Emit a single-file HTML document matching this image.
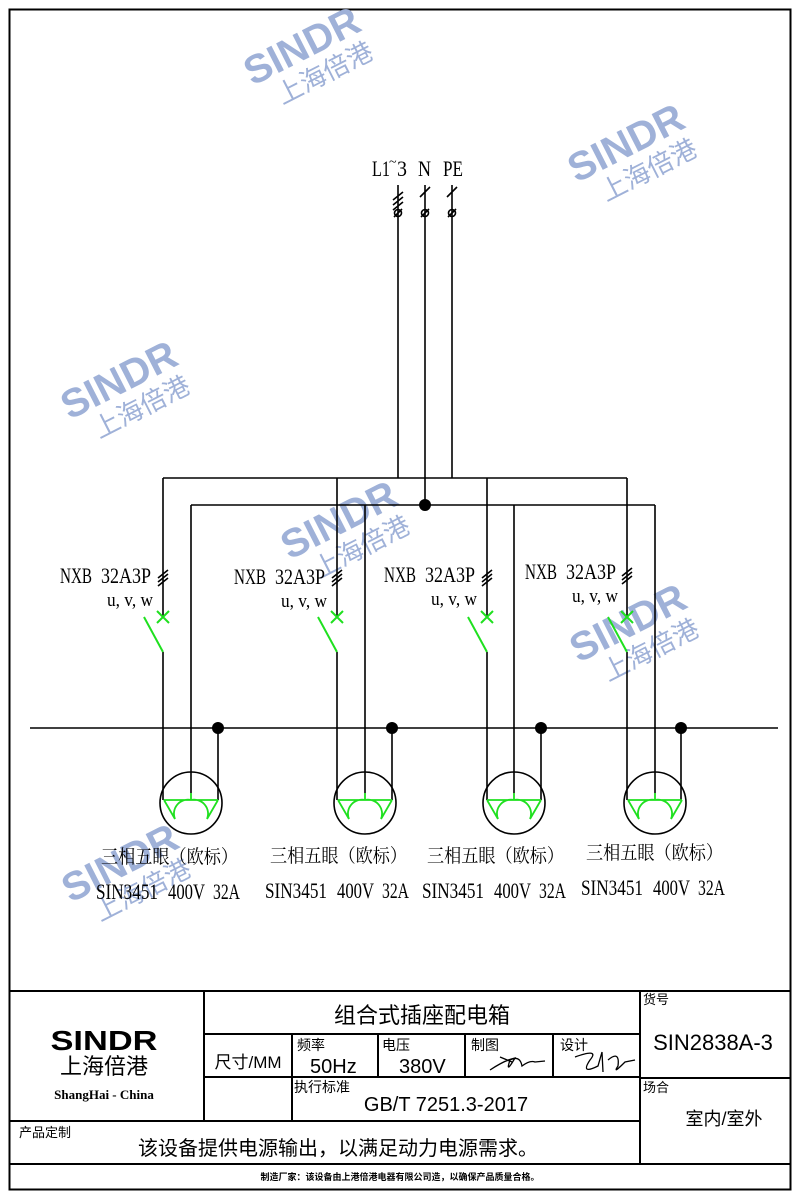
<!DOCTYPE html>
<html><head><meta charset="utf-8"><style>
body{margin:0;background:#fff;}
svg{display:block;}
.s{font-family:"Liberation Serif","Noto Serif CJK SC",serif;}
.c{font-family:"Liberation Sans","Noto Sans CJK SC",sans-serif;}
</style></head><body>
<svg width="800" height="1200" viewBox="0 0 800 1200" xmlns="http://www.w3.org/2000/svg">
<defs>
<g id="nxb" class="s" font-size="22" fill="#000">
<text x="0" y="0" textLength="32" lengthAdjust="spacingAndGlyphs">NXB</text>
<text x="41" y="0" textLength="50" lengthAdjust="spacingAndGlyphs">32A3P</text>
<text x="47" y="23" font-size="19" textLength="46" lengthAdjust="spacingAndGlyphs">u, v, w</text>
</g>
<g id="lab" class="s" font-size="22" fill="#000">
<text x="5" y="0" font-size="19" textLength="137" lengthAdjust="spacingAndGlyphs">三相五眼（欧标）</text>
<text x="0" y="36" textLength="62" lengthAdjust="spacingAndGlyphs">SIN3451</text>
<text x="72" y="36" textLength="37" lengthAdjust="spacingAndGlyphs">400V</text>
<text x="117" y="36" textLength="27" lengthAdjust="spacingAndGlyphs">32A</text>
</g>
<g id="wm" fill="#9fb1d8" font-family="Liberation Sans,sans-serif" font-weight="bold"><text x="0" y="0" font-size="40" text-anchor="middle">SINDR</text><text x="8" y="30" font-size="26" text-anchor="middle" font-family="Noto Sans CJK SC,sans-serif" font-weight="normal">上海倍港</text></g>
</defs>
<rect x="0" y="0" width="800" height="1200" fill="#fff"/>
<rect x="9.5" y="9.5" width="781" height="1180" fill="none" stroke="#000" stroke-width="2"/>

<use href="#wm" transform="translate(308,58) rotate(-27)"/>
<use href="#wm" transform="translate(632,155) rotate(-27)"/>
<use href="#wm" transform="translate(125,392) rotate(-27)"/>
<use href="#wm" transform="translate(345,532) rotate(-27)"/>
<use href="#wm" transform="translate(634,635) rotate(-27)"/>
<use href="#wm" transform="translate(126,875) rotate(-27)"/>

<g class="s" font-size="22" fill="#000">
<text x="372" y="176" textLength="18" lengthAdjust="spacingAndGlyphs">L1</text>
<text x="389" y="166" font-size="14">~</text>
<text x="397" y="176" textLength="10" lengthAdjust="spacingAndGlyphs">3</text>
<text x="418" y="176" textLength="13" lengthAdjust="spacingAndGlyphs">N</text>
<text x="443" y="176" textLength="20" lengthAdjust="spacingAndGlyphs">PE</text>
</g>
<g stroke="#000" stroke-width="1.6" fill="none">
<line x1="398" y1="185" x2="398" y2="478"/>
<line x1="425" y1="185" x2="425" y2="505"/>
<line x1="452" y1="185" x2="452" y2="478"/>
<path d="M393 200 L403 192 M393 205 L403 197 M393 210 L403 202"/>
<path d="M420 197 L430 187 M447 197 L457 187"/>
<circle cx="398" cy="213" r="3.5"/><circle cx="425" cy="213" r="3.5"/><circle cx="452" cy="213" r="3.5"/>
<path d="M394 217 L402 209 M421 217 L429 209 M448 217 L456 209"/>
<line x1="163" y1="478" x2="627" y2="478"/>
<line x1="191" y1="505" x2="655" y2="505"/>
<line x1="30" y1="728" x2="778" y2="728"/>
</g>
<circle cx="425" cy="505" r="6" fill="#000"/>

<g stroke="#000" stroke-width="1.6" fill="none">
<path d="M163 478 V617 M163 652 V800 M191 505 V793 M218 728 V800"/>
<path d="M337 478 V617 M337 652 V800 M365 505 V793 M392 728 V800"/>
<path d="M487 478 V617 M487 652 V800 M514 505 V793 M541 728 V800"/>
<path d="M627 478 V617 M627 652 V800 M655 505 V793 M681 728 V800"/>
<circle cx="191" cy="803" r="31"/><circle cx="365" cy="803" r="31"/><circle cx="514" cy="803" r="31"/><circle cx="655" cy="803" r="31"/>
<path d="M158 578 L168 570 M158 582 L168 574 M158 586 L168 578"/>
<path d="M332 578 L342 570 M332 582 L342 574 M332 586 L342 578"/>
<path d="M482 578 L492 570 M482 582 L492 574 M482 586 L492 578"/>
<path d="M622 576 L632 568 M622 580 L632 572 M622 584 L632 576"/>
</g>
<g fill="#000"><circle cx="218" cy="728" r="6"/><circle cx="392" cy="728" r="6"/><circle cx="541" cy="728" r="6"/><circle cx="681" cy="728" r="6"/></g>
<g stroke="#1fe01f" stroke-width="2" fill="none">
<path d="M157 611 L169 623 M169 611 L157 623 M144 617 L163 652"/>
<path d="M331 611 L343 623 M343 611 L331 623 M318 617 L337 652"/>
<path d="M481 611 L493 623 M493 611 L481 623 M468 617 L487 652"/>
<path d="M621 611 L633 623 M633 611 L621 623 M608 617 L627 652"/>
<g stroke-width="1.8">
<path d="M164 800 H218 M191 793 V800 M164 800 L175 819 A14 14 0 0 1 191 800 A14 14 0 0 1 207 819 L218 800"/>
<path d="M338 800 H392 M365 793 V800 M338 800 L349 819 A14 14 0 0 1 365 800 A14 14 0 0 1 381 819 L392 800"/>
<path d="M487 800 H541 M514 793 V800 M487 800 L498 819 A14 14 0 0 1 514 800 A14 14 0 0 1 530 819 L541 800"/>
<path d="M628 800 H682 M655 793 V800 M628 800 L639 819 A14 14 0 0 1 655 800 A14 14 0 0 1 671 819 L682 800"/>
</g>
</g>

<use href="#nxb" transform="translate(60,583)"/>
<use href="#nxb" transform="translate(234,584)"/>
<use href="#nxb" transform="translate(384,582)"/>
<use href="#nxb" transform="translate(525,579)"/>
<use href="#lab" transform="translate(96,863)"/>
<use href="#lab" transform="translate(265,862)"/>
<use href="#lab" transform="translate(422,862)"/>
<use href="#lab" transform="translate(581,859)"/>

<g stroke="#000" stroke-width="2" fill="none">
<line x1="9" y1="991" x2="791" y2="991"/>
<line x1="204" y1="991" x2="204" y2="1121"/>
<line x1="640" y1="991" x2="640" y2="1164"/>
<line x1="204" y1="1034" x2="640" y2="1034"/>
<line x1="204" y1="1077" x2="640" y2="1077"/>
<line x1="640" y1="1078" x2="791" y2="1078"/>
<line x1="9" y1="1121" x2="640" y2="1121"/>
<line x1="9" y1="1164" x2="791" y2="1164"/>
<line x1="292" y1="1034" x2="292" y2="1121"/>
<line x1="378" y1="1034" x2="378" y2="1077"/>
<line x1="465" y1="1034" x2="465" y2="1077"/>
<line x1="553" y1="1034" x2="553" y2="1077"/>
</g>
<g class="c" fill="#000">
<text x="104" y="1050" font-size="28" font-weight="bold" text-anchor="middle" textLength="107" lengthAdjust="spacingAndGlyphs">SINDR</text>
<text x="104" y="1074" font-size="22" text-anchor="middle">上海倍港</text>
<text x="104" y="1099" font-size="13" font-weight="bold" text-anchor="middle" font-family="Liberation Serif,serif">ShangHai - China</text>
<text x="422" y="1023" font-size="22" text-anchor="middle">组合式插座配电箱</text>
<text x="248" y="1068" font-size="17" text-anchor="middle">尺寸/MM</text>
<text x="297" y="1050" font-size="14">频率</text>
<text x="310" y="1073" font-size="20">50Hz</text>
<text x="382" y="1050" font-size="14">电压</text>
<text x="399" y="1073" font-size="20">380V</text>
<text x="471" y="1050" font-size="14">制图</text>
<text x="560" y="1050" font-size="14">设计</text>
<text x="294" y="1092" font-size="14">执行标准</text>
<text x="446" y="1111" font-size="20" text-anchor="middle">GB/T 7251.3-2017</text>
<text x="643" y="1004" font-size="13">货号</text>
<text x="713" y="1050" font-size="22" text-anchor="middle">SIN2838A-3</text>
<text x="643" y="1092" font-size="13">场合</text>
<text x="724" y="1125" font-size="18" text-anchor="middle">室内/室外</text>
<text x="19" y="1137" font-size="13">产品定制</text>
<text x="338" y="1155" font-size="20" text-anchor="middle">该设备提供电源输出，以满足动力电源需求。</text>
<text x="400" y="1180" font-size="9" font-weight="bold" text-anchor="middle">制造厂家：该设备由上港倍港电器有限公司造，以确保产品质量合格。</text>
</g>
<g stroke="#000" stroke-width="1.3" fill="none">
<path d="M500 1057 L512 1062 M490 1070 Q505 1060 515 1058 Q505 1075 510 1060 Q520 1055 522 1066 Q530 1060 535 1062 L545 1061"/>
<path d="M575 1057 Q600 1048 590 1060 Q580 1075 598 1066 L602 1052 L603 1072 M608 1060 Q620 1050 618 1066 Q612 1075 625 1062 L635 1060"/>
</g>
</svg>
</body></html>
